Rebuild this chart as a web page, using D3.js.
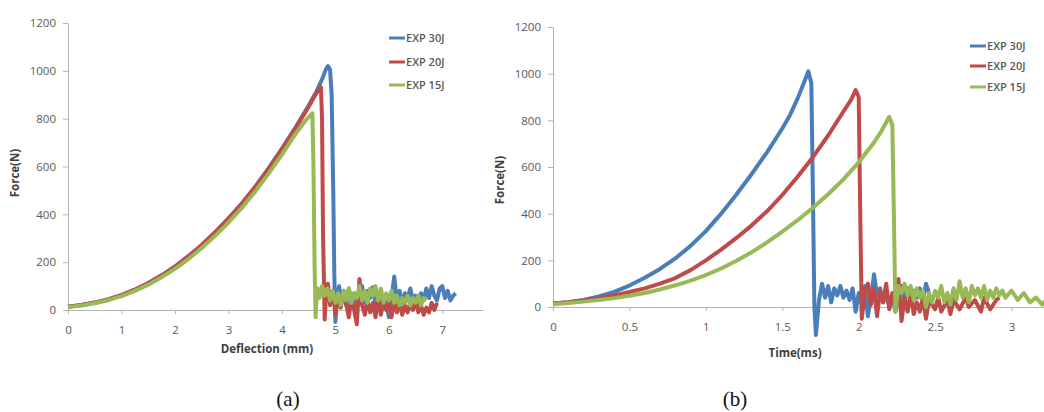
<!DOCTYPE html>
<html>
<head>
<meta charset="utf-8">
<script src="https://cdn.jsdelivr.net/npm/d3@7"></script>
<style>
  body { margin: 0; background: #fff; }
  svg { display: block; }
  .tick text { font-family: "Open Sans", sans-serif; font-size: 11.5px; fill: #595959; }
  .domain, .tick line { stroke: #b3b3b3; }
</style>
</head>
<body>
<svg id="chart" width="1044" height="412"></svg>
<script>
// series names and colours
var seriesNames = ["EXP 30J", "EXP 20J", "EXP 15J"];
var seriesColors = ["#4a7ebb", "#be4b48", "#98b954"];

// (a) force vs deflection, [mm, N]
var defl30 = [[0,14],[0.25,21],[0.5,31],[0.75,44],[1,62],[1.25,85],[1.5,113],[1.75,145],[2,182],[2.25,225],[2.5,272],[2.75,325],[3,383],[3.25,445],[3.5,515],[3.75,592],[4,675],[4.25,762],[4.5,855],[4.65,915],[4.75,965],[4.82,1005],[4.86,1020],[4.9,1005],[4.93,900],[4.96,500],[4.98,150],[5.0,-50],
  [5.03,60],[5.07,100],[5.1,30],[5.15,80],[5.2,20],[5.25,90],[5.3,40],[5.35,70],[5.4,10],[5.45,60],[5.5,100],[5.55,30],[5.6,80],[5.65,50],[5.7,95],[5.75,20],[5.8,70],[5.85,-10],[5.9,60],[5.95,30],[6.0,-30],[6.05,50],[6.1,140],[6.15,40],[6.2,80],[6.25,30],[6.3,70],[6.35,50],[6.4,90],[6.45,40],[6.5,60],[6.55,30],[6.6,70],[6.65,40],[6.7,90],[6.75,50],[6.8,100],[6.85,60],[6.9,40],[6.95,90],[7.0,100],[7.05,50],[7.1,80],[7.15,40],[7.2,60],[7.25,70]];
var defl20 = [[0,14],[0.25,21],[0.5,31],[0.75,44],[1,62],[1.25,85],[1.5,112],[1.75,144],[2,181],[2.25,224],[2.5,271],[2.75,324],[3,382],[3.25,444],[3.5,514],[3.75,590],[4,672],[4.25,758],[4.5,850],[4.6,890],[4.68,920],[4.73,932],[4.75,800],[4.77,300],[4.8,-40],
  [4.83,90],[4.86,110],[4.9,20],[4.95,80],[5.0,-20],[5.05,60],[5.1,10],[5.15,80],[5.2,30],[5.25,-30],[5.3,50],[5.35,0],[5.4,-60],[5.45,130],[5.5,20],[5.55,-20],[5.6,40],[5.65,-10],[5.7,30],[5.75,-30],[5.8,50],[5.85,-20],[5.9,40],[5.95,0],[6.0,30],[6.05,-30],[6.1,40],[6.15,-10],[6.2,30],[6.25,-20],[6.3,20],[6.35,-10],[6.4,30],[6.45,0],[6.5,40],[6.55,-10],[6.6,20],[6.65,-20],[6.7,10],[6.75,-10],[6.8,30],[6.85,0],[6.9,30]];
var defl15 = [[0,12],[0.25,19],[0.5,28],[0.75,41],[1,58],[1.25,80],[1.5,106],[1.75,137],[2,172],[2.25,213],[2.5,259],[2.75,310],[3,366],[3.25,427],[3.5,495],[3.75,570],[4,650],[4.25,735],[4.45,795],[4.57,822],[4.59,600],[4.61,200],[4.63,-30],
  [4.65,60],[4.67,90],[4.7,50],[4.75,100],[4.8,60],[4.85,90],[4.9,40],[4.95,80],[5.0,30],[5.05,70],[5.1,20],[5.15,80],[5.2,40],[5.25,90],[5.3,30],[5.35,70],[5.4,50],[5.45,100],[5.5,40],[5.55,80],[5.6,30],[5.65,90],[5.7,60],[5.75,100],[5.8,40],[5.85,90],[5.9,30],[5.95,70],[6.0,40],[6.05,80],[6.1,30],[6.15,60],[6.2,20],[6.25,50],[6.3,30],[6.35,60],[6.4,20],[6.45,50],[6.5,30],[6.55,60],[6.6,20],[6.65,50],[6.7,40]];

// (b) force vs time, [ms, N]
var time30 = [[0,15],[0.1,20],[0.2,30],[0.3,45],[0.4,65],[0.5,92],[0.6,125],[0.7,163],[0.8,208],[0.9,262],[1.0,325],[1.1,400],[1.2,482],[1.3,570],[1.4,663],[1.5,765],[1.55,822],[1.6,893],[1.65,975],[1.67,1010],[1.69,960],[1.7,500],[1.71,0],[1.72,-120],
  [1.74,30],[1.76,100],[1.78,40],[1.8,90],[1.82,20],[1.84,80],[1.86,50],[1.88,90],[1.9,40],[1.92,70],[1.94,30],[1.96,80],[1.98,-20],[2.0,60],[2.02,10],[2.04,90],[2.06,-40],[2.08,40],[2.1,140],[2.12,50],[2.14,80],[2.16,20],[2.18,60],[2.2,0],[2.22,50],[2.24,-20],[2.26,40],[2.28,90],[2.3,30],[2.32,80],[2.34,20],[2.36,70],[2.38,40],[2.4,80],[2.42,30],[2.44,100],[2.46,60]];
var time20 = [[0,15],[0.1,20],[0.2,28],[0.3,38],[0.4,50],[0.5,64],[0.6,80],[0.7,100],[0.8,124],[0.9,158],[1.0,200],[1.1,246],[1.2,296],[1.3,350],[1.4,410],[1.5,480],[1.6,558],[1.7,642],[1.8,735],[1.9,838],[1.95,888],[1.98,930],[2.0,900],[2.01,400],[2.02,-50],
  [2.04,60],[2.06,100],[2.08,10],[2.1,80],[2.12,-40],[2.14,70],[2.16,20],[2.18,100],[2.2,-10],[2.22,60],[2.24,0],[2.26,120],[2.28,-60],[2.3,40],[2.32,-20],[2.34,60],[2.36,-30],[2.38,20],[2.4,-20],[2.42,40],[2.44,-50],[2.46,30],[2.5,-10],[2.52,40],[2.54,-20],[2.58,30],[2.6,-30],[2.62,30],[2.66,-10],[2.7,40],[2.72,0],[2.76,30],[2.8,-20],[2.82,40],[2.86,-10],[2.9,30],[2.92,40]];
var time15 = [[0,12],[0.1,17],[0.2,23],[0.3,30],[0.4,38],[0.5,48],[0.6,60],[0.7,75],[0.8,93],[0.9,113],[1.0,137],[1.1,165],[1.2,198],[1.3,235],[1.4,277],[1.5,323],[1.6,372],[1.7,425],[1.8,483],[1.9,547],[2.0,620],[2.1,705],[2.15,755],[2.2,815],[2.22,780],[2.23,400],[2.24,-20],
  [2.26,90],[2.28,60],[2.3,100],[2.32,50],[2.34,90],[2.36,30],[2.38,80],[2.4,40],[2.42,70],[2.44,0],[2.46,60],[2.48,20],[2.5,70],[2.52,40],[2.54,90],[2.56,20],[2.58,60],[2.6,10],[2.62,80],[2.64,30],[2.66,110],[2.68,40],[2.7,80],[2.72,20],[2.74,90],[2.76,50],[2.78,80],[2.8,40],[2.82,90],[2.84,30],[2.86,70],[2.88,40],[2.9,80],[2.92,50],[2.94,70],[2.96,40],[3.0,70],[3.04,30],[3.08,60],[3.12,20],[3.16,40],[3.2,10],[3.24,40],[3.28,20],[3.32,50],[3.36,60]];

// tick values
var yTicks = [0, 200, 400, 600, 800, 1000, 1200];
var deflTicks = [0, 1, 2, 3, 4, 5, 6, 7];
var timeTicks = [0, 0.5, 1, 1.5, 2, 2.5, 3];

var svg = d3.select("#chart");

function drawPanel(cfg) {
    var x = d3.scaleLinear().domain(cfg.xDomain).range([cfg.left, cfg.right]);
    var y = d3.scaleLinear().domain([0, 1200]).range([cfg.bottom, cfg.top]);
    var g = svg.append("g");

    // x axis
    g.append("g")
        .attr("transform", "translate(0," + y(0) + ")")
        .call(d3.axisBottom(x).tickValues(cfg.xTicks).tickSize(4).tickSizeOuter(0).tickPadding(12)
            .tickFormat(d3.format("")));

    // y axis
    g.append("g")
        .attr("transform", "translate(" + cfg.left + ",0)")
        .call(d3.axisLeft(y).tickValues(yTicks).tickSize(5).tickSizeOuter(0).tickPadding(7)
            .tickFormat(d3.format("d")));

    // lines
    var line = d3.line()
        .x(function(d) { return x(d[0]); })
        .y(function(d) { return y(d[1]); });

    cfg.series.forEach(function(s, i) {
        g.append("path")
            .datum(s)
            .attr("fill", "none")
            .attr("stroke", seriesColors[i])
            .attr("stroke-width", 4)
            .attr("stroke-linejoin", "round")
            .attr("d", line);
    });

    // axis titles
    g.append("text")
        .attr("x", cfg.xTitleX).attr("y", cfg.xTitleY)
        .attr("text-anchor", "middle")
        .style("font-family", "Open Sans, sans-serif").style("font-size", "11.5px")
        .style("font-weight", "bold").style("fill", "#404040")
        .text(cfg.xTitle);

    g.append("text")
        .attr("transform", "translate(" + cfg.yTitleX + "," + cfg.yTitleY + ")rotate(-90)")
        .attr("text-anchor", "middle")
        .style("font-family", "Open Sans, sans-serif").style("font-size", "11.5px")
        .style("font-weight", "bold").style("fill", "#404040")
        .text("Force(N)");

    // legend
    seriesNames.forEach(function(name, i) {
        var ly = cfg.legendY[i];
        g.append("line")
            .attr("x1", cfg.legendX).attr("x2", cfg.legendX + 16)
            .attr("y1", ly).attr("y2", ly)
            .attr("stroke", seriesColors[i]).attr("stroke-width", 3);
        g.append("text")
            .attr("x", cfg.legendX + 17).attr("y", ly + 4)
            .style("font-family", "Open Sans, sans-serif").style("font-size", "11px")
            .style("font-weight", "600").style("fill", "#595959")
            .text(name);
    });

    // caption
    g.append("text")
        .attr("x", cfg.capX).attr("y", 406)
        .attr("text-anchor", "middle")
        .style("font-family", "Liberation Serif, serif").style("font-size", "21px")
        .style("fill", "#111")
        .text(cfg.caption);
}

drawPanel({
    series: [defl30, defl20, defl15],
    xDomain: [0, 7.76], xTicks: deflTicks,
    left: 68, right: 483, top: 23, bottom: 310,
    xTitle: "Deflection (mm)", xTitleX: 267, xTitleY: 353,
    yTitleX: 19, yTitleY: 173,
    legendX: 389, legendY: [38, 62, 85],
    capX: 288, caption: "(a)"
});

drawPanel({
    series: [time30, time20, time15],
    xDomain: [0, 3.5], xTicks: timeTicks,
    left: 553, right: 1088, top: 27, bottom: 307,
    xTitle: "Time(ms)", xTitleX: 795, xTitleY: 357,
    yTitleX: 504, yTitleY: 180,
    legendX: 970, legendY: [46, 66, 87],
    capX: 735, caption: "(b)"
});
</script>
</body>
</html>
